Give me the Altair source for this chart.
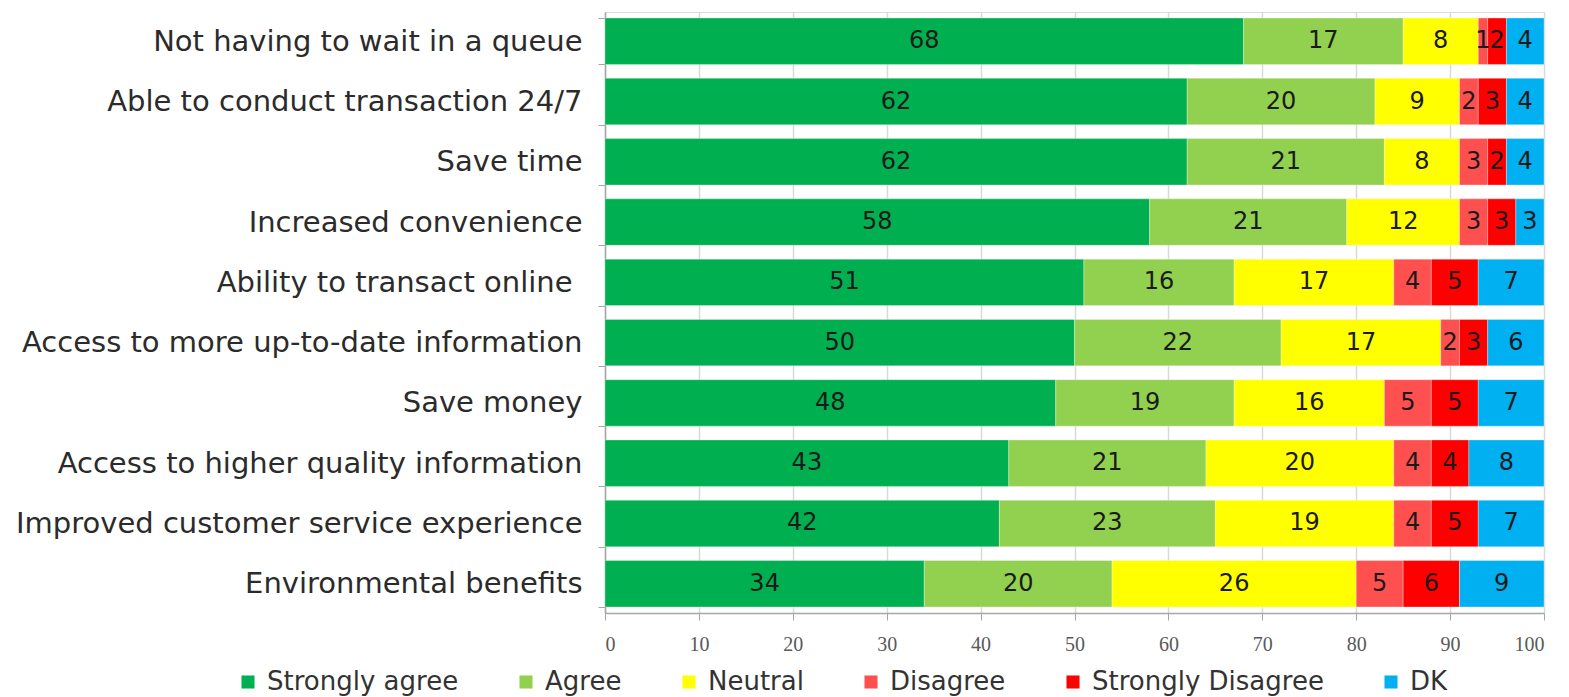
import altair as alt
import pandas as pd

categories = [
    "Not having to wait in a queue",
    "Able to conduct transaction 24/7",
    "Save time",
    "Increased convenience",
    "Ability to transact online",
    "Access to more up-to-date information",
    "Save money",
    "Access to higher quality information",
    "Improved customer service experience",
    "Environmental benefits",
]

series = ["Strongly agree", "Agree", "Neutral", "Disagree", "Strongly Disagree", "DK"]
colors = ["#00B050", "#92D050", "#FFFF00", "#FF5050", "#FF0000", "#00B0F0"]

strongly_agree = [68, 62, 62, 58, 51, 50, 48, 43, 42, 34]
agree = [17, 20, 21, 21, 16, 22, 19, 21, 23, 20]
neutral = [8, 9, 8, 12, 17, 17, 16, 20, 19, 26]
disagree = [1, 2, 3, 3, 4, 2, 5, 4, 4, 5]
strongly_disagree = [2, 3, 2, 3, 5, 3, 5, 4, 5, 6]
dk = [4, 4, 4, 3, 7, 6, 7, 8, 7, 9]

x_ticks = list(range(0, 101, 10))

values_by_series = [strongly_agree, agree, neutral, disagree, strongly_disagree, dk]
rows = []
for s_idx, (name, vals) in enumerate(zip(series, values_by_series)):
    for cat, v in zip(categories, vals):
        rows.append({"item": cat, "response": name, "order": s_idx, "value": v})
df = pd.DataFrame(rows)

base = alt.Chart(df).transform_stack(
    stack="value",
    as_=["x0", "x1"],
    groupby=["item"],
    sort=[alt.SortField("order", order="ascending")],
).transform_calculate(mid="(datum.x0 + datum.x1) / 2")

# the "online" label carries a trailing space in the source, so it sits a bit further left
y_enc = alt.Y(
    "item:N",
    sort=categories,
    title=None,
    scale=alt.Scale(paddingInner=0.23, paddingOuter=0.1),
    axis=alt.Axis(
        labelFont="DejaVu Sans",
        labelFontSize=29,
        labelColor="#2b2b2b",
        labelPadding={
            "condition": {"test": "datum.value === 'Ability to transact online'", "value": 26},
            "value": 16,
        },
        labelLimit=700,
        tickBand="extent",
        tickSize=7,
        tickColor="#a6a6a6",
        domainColor="#a6a6a6",
        domainWidth=1.5,
        grid=False,
    ),
)

bars = base.mark_bar(stroke="#ffffff", strokeWidth=0.6, strokeOpacity=0.5).encode(
    x=alt.X(
        "x0:Q",
        title=None,
        scale=alt.Scale(domain=[0, 100], nice=False),
        axis=alt.Axis(
            values=x_ticks,
            labelFont="Liberation Serif",
            labelFontSize=20,
            labelColor="#595959",
            labelPadding=14,
            tickSize=7,
            tickColor="#a6a6a6",
            domainColor="#a6a6a6",
            domainWidth=1.5,
            grid=True,
            gridColor="#d9d9d9",
            gridWidth=1.5,
        ),
    ),
    x2="x1:Q",
    y=y_enc,
    color=alt.Color(
        "response:N",
        sort=series,
        scale=alt.Scale(domain=series, range=colors),
        legend=alt.Legend(
            title=None,
            orient="none",
            direction="horizontal",
            columns=6,
            legendX=-370,
            legendY=657,
            symbolType="square",
            symbolSize=170,
            symbolStrokeWidth=0,
            symbolOpacity=1,
            labelFont="DejaVu Sans",
            labelFontSize=26,
            labelColor="#333333",
            labelOffset=6,
            labelLimit=400,
            columnPadding=54,
        ),
    ),
)

labels = base.mark_text(
    font="DejaVu Sans", fontSize=24, color="#1a1a1a", baseline="middle", align="center"
).encode(
    x=alt.X("mid:Q"),
    y=alt.Y("item:N", sort=categories),
    text=alt.Text("value:Q"),
)

chart = (
    alt.layer(bars, labels)
    .properties(
        width=939,
        height=601,
        autosize=alt.AutoSizeParams(type="none"),
        padding={"left": 605, "top": 12, "right": 25, "bottom": 84},
    )
    .configure_view(stroke=None)
    .configure(background="white")
)

chart.save("out.html", embed_options={"renderer": "svg", "actions": False})
